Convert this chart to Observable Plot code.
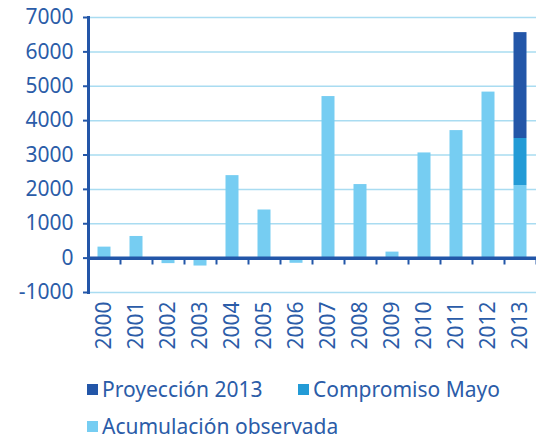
<!DOCTYPE html>
<html>
<head>
<meta charset="utf-8">
<script src="https://cdn.jsdelivr.net/npm/d3@7"></script>
<script src="https://cdn.jsdelivr.net/npm/@observablehq/plot@0.6"></script>
<style>
  html, body { margin: 0; padding: 0; background: #fff; }
  #wrap { position: relative; width: 536px; height: 441px; font-family: "Noto Sans", sans-serif; }
  .leg { position: absolute; display: flex; align-items: center; color: #2b5ca8; font-size: 21px; white-space: nowrap; }
  .sw { width: 11px; height: 11px; margin-right: 4px; }
</style>
</head>
<body>
<div id="wrap"></div>
<script>
const years = ["2000","2001","2002","2003","2004","2005","2006","2007","2008","2009","2010","2011","2012","2013"];
const observada = [320, 630, -160, -230, 2400, 1400, -150, 4700, 2140, 175, 3060, 3710, 4830, 2110];
const compromiso = [0,0,0,0,0,0,0,0,0,0,0,0,0,1370];
const proyeccion = [0,0,0,0,0,0,0,0,0,0,0,0,0,3080];
const seriesNames = ["Acumulación observada", "Compromiso Mayo", "Proyección 2013"];
const seriesColors = ["#76cdf2", "#239bd6", "#2356a8"];
const yTicks = [-1000, 0, 1000, 2000, 3000, 4000, 5000, 6000, 7000];

const rows = [];
[observada, compromiso, proyeccion].forEach((vals, si) => {
  vals.forEach((v, i) => { if (v !== 0) rows.push({year: years[i], series: seriesNames[si], value: v}); });
});

const axisColor = "#2356a8";
const textColor = "#2b5ca8";

const chart = Plot.plot({
  width: 536,
  height: 360,
  marginLeft: 88,
  marginRight: 0,
  marginTop: 17,
  marginBottom: 68,
  style: {fontFamily: "Noto Sans, sans-serif", fontSize: "21px", color: textColor, background: "white"},
  x: {domain: years, padding: 0, label: null},
  y: {domain: [-1000, 7000], label: null},
  color: {domain: seriesNames, range: seriesColors},
  marks: [
    Plot.ruleY(yTicks, {stroke: "#a9dcf1", strokeWidth: 1.5}),
    Plot.barY(rows, {x: "year", y: "value", fill: "series", insetLeft: 9.5, insetRight: 9.5}),
    Plot.ruleX(years, {x: d => d, dx: 16, y1: 0, y2: -200, stroke: axisColor, strokeWidth: 2}),
    Plot.ruleY([0], {stroke: axisColor, strokeWidth: 3.5}),
    Plot.frame({anchor: "left", stroke: axisColor, strokeWidth: 3}),
    Plot.axisY({ticks: yTicks, tickFormat: d => String(d), tickSize: 5, tickPadding: 10, stroke: axisColor, strokeWidth: 2, fill: textColor, fontSize: 21, label: null}),
    Plot.axisX({tickSize: 0, tickPadding: 9, tickRotate: -90, fill: textColor, fontSize: 21, label: null})
  ]
});

const wrap = document.getElementById("wrap");
chart.style.position = "absolute";
chart.style.left = "0px";
chart.style.top = "0px";
wrap.appendChild(chart);

const legendPos = [
  {i: 2, left: 87, top: 375},
  {i: 1, left: 298, top: 375},
  {i: 0, left: 87, top: 412}
];
legendPos.forEach(p => {
  const d = document.createElement("div");
  d.className = "leg";
  d.style.left = p.left + "px";
  d.style.top = p.top + "px";
  const s = document.createElement("div");
  s.className = "sw";
  s.style.background = seriesColors[p.i];
  d.appendChild(s);
  const t = document.createElement("span");
  t.textContent = seriesNames[p.i];
  d.appendChild(t);
  wrap.appendChild(d);
});
</script>
</body>
</html>
